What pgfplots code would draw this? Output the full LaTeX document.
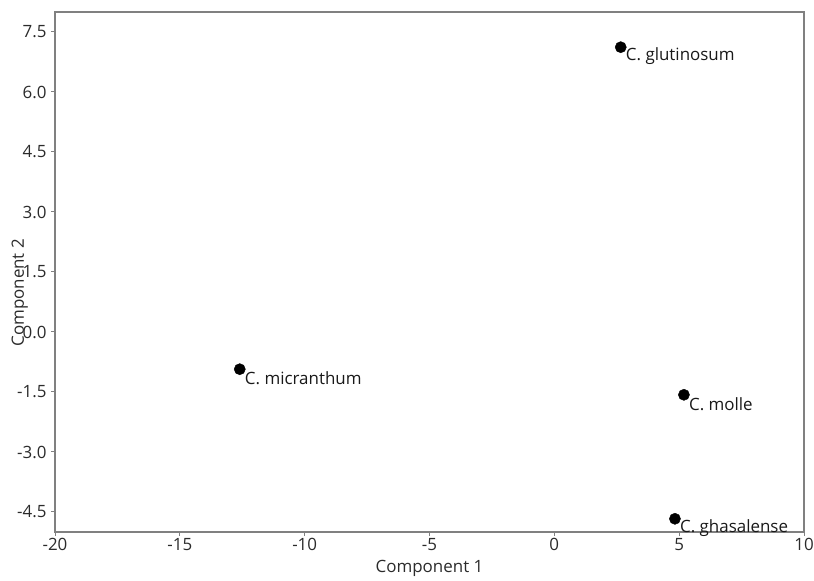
\documentclass[border=0pt]{standalone}
\usepackage{pgfplots}
\pgfplotsset{compat=1.18}
\usepackage{fontspec}
\setmainfont{Open Sans}
\definecolor{framegray}{HTML}{808080}
\definecolor{txt}{HTML}{2b2b2b}
\begin{document}
\begin{tikzpicture}[font=\fontsize{17}{20}\selectfont]
\useasboundingbox (0,0) rectangle (814bp,581bp);
\begin{axis}[
  at={(55bp,49bp)}, anchor=south west,
  width=749bp, height=520bp, scale only axis,
  xmin=-20, xmax=10, ymin=-5, ymax=8,
  xtick={-20,-15,...,10},
  ytick={-4.5,-3,-1.5,0,1.5,3,4.5,6,7.5},
  yticklabel style={xshift=-1bp, /pgf/number format/.cd, fixed, fixed zerofill, precision=1},
  /pgf/number format/assume math mode=true,
  tick align=outside, tick pos=left,
  major tick length=4bp,
  axis line style={framegray, line width=1.1bp},
  tick style={framegray, line width=1bp},
  ticklabel style={txt, font=\fontsize{17}{20}\selectfont},
  xticklabel style={yshift=1bp},
  xlabel={Component 1}, ylabel={Component 2},
  label style={txt, font=\fontsize{17}{20}\selectfont},
  xlabel style={at={(axis description cs:0.5,0)}, anchor=north, yshift=-25bp},
  ylabel style={at={(axis description cs:-0.047,0.46)}, anchor=center},
  clip=false,
  nodes near coords,
  point meta=explicit symbolic,
  every node near coord/.style={anchor=west, xshift=4bp, yshift=-9bp, inner sep=1bp, text=black!90, font=\fontsize{17}{20}\selectfont},
]
\addplot[only marks, mark=*, mark size=5.6bp, mark options={fill=black, draw=black}] table[meta=label] {
x y label
2.66 7.12 {C. glutinosum}
-12.6 -0.93 {C. micranthum}
5.19 -1.57 {C. molle}
4.83 -4.67 {C. ghasalense}
};
\end{axis}
\end{tikzpicture}
\end{document}
